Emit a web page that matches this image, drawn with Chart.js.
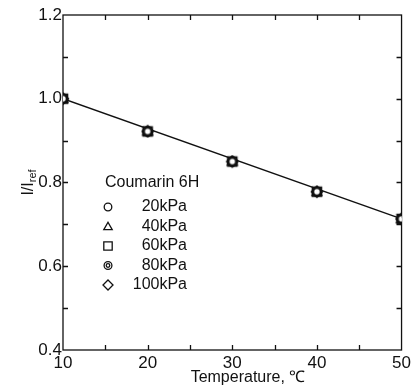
<!DOCTYPE html>
<html>
<head>
<meta charset="utf-8">
<script src="https://cdn.jsdelivr.net/npm/chart.js@4/dist/chart.umd.min.js"></script>
<style>
html,body{margin:0;padding:0;background:#fff;}
#wrap{width:414px;height:386px;position:relative;}
</style>
</head>
<body>
<div id="wrap"><canvas id="c" width="414" height="386"></canvas></div>
<script>
// ---- data ----
const temperature = [10, 20, 30, 40, 50];
const p20kPa  = [1.000, 0.922, 0.850, 0.778, 0.713];
const p40kPa  = [1.000, 0.922, 0.850, 0.778, 0.713];
const p60kPa  = [1.000, 0.922, 0.850, 0.778, 0.713];
const p80kPa  = [1.000, 0.922, 0.850, 0.778, 0.713];
const p100kPa = [1.000, 0.922, 0.850, 0.778, 0.713];
const fitTemperature = [10, 50];
const fitRatio = [1.000, 0.713];
const seriesLabels = ['20kPa', '40kPa', '60kPa', '80kPa', '100kPa'];
const legendTitle = 'Coumarin 6H';
const xTicks = [10, 20, 30, 40, 50];
const yTicks = [0.4, 0.6, 0.8, 1.0, 1.2];
const xTitle = 'Temperature, \u2103';

const INK = '#111';

function drawMarker(ctx, type, x, y, lw) {
  ctx.save();
  ctx.strokeStyle = INK;
  ctx.fillStyle = '#fff';
  ctx.lineWidth = lw;
  ctx.beginPath();
  if (type === 'circle') {
    ctx.arc(x, y, 3.8, 0, Math.PI * 2);
  } else if (type === 'triangle') {
    ctx.moveTo(x, y - 4.2);
    ctx.lineTo(x + 4.2, y + 3.2);
    ctx.lineTo(x - 4.2, y + 3.2);
    ctx.closePath();
  } else if (type === 'square') {
    ctx.rect(x - 4.2, y - 4.2, 8.4, 8.4);
  } else if (type === 'dcircle') {
    ctx.arc(x, y, 3.9, 0, Math.PI * 2);
    ctx.fill(); ctx.stroke();
    ctx.beginPath();
    ctx.arc(x, y, 1.8, 0, Math.PI * 2);
  } else if (type === 'diamond') {
    ctx.moveTo(x, y - 5);
    ctx.lineTo(x + 5, y);
    ctx.lineTo(x, y + 5);
    ctx.lineTo(x - 5, y);
    ctx.closePath();
  }
  ctx.fill();
  ctx.stroke();
  ctx.restore();
}

const markerTypes = ['circle', 'triangle', 'square', 'dcircle', 'diamond'];
function markerImage(type) {
  const cv = document.createElement('canvas');
  cv.width = 14; cv.height = 14;
  drawMarker(cv.getContext('2d'), type, 7, 7, 2.2);
  return cv;
}

const seriesValues = [p20kPa, p40kPa, p60kPa, p80kPa, p100kPa];
const datasets = seriesValues.map((vals, i) => ({
  label: seriesLabels[i],
  data: temperature.map((t, j) => ({x: t, y: vals[j]})),
  pointStyle: markerImage(markerTypes[i]),
  pointRadius: 7,
  showLine: false,
  order: i
}));
datasets.push({
  label: 'fit',
  data: fitTemperature.map((t, j) => ({x: t, y: fitRatio[j]})),
  showLine: true,
  borderColor: INK,
  borderWidth: 1.4,
  pointRadius: 0,
  order: 10
});

const framePlugin = {
  id: 'frame',
  beforeDatasetsDraw(chart) {
    const {ctx, chartArea: a, scales: {x, y}} = chart;
    ctx.save();
    ctx.strokeStyle = INK;
    ctx.lineWidth = 1.3;
    ctx.strokeRect(a.left, a.top, a.right - a.left, a.bottom - a.top);
    ctx.beginPath();
    const L = 5;
    for (let v = x.min + 5; v < x.max - 0.01; v += 5) {
      const px = Math.round(x.getPixelForValue(v)) + 0.5;
      ctx.moveTo(px, a.bottom); ctx.lineTo(px, a.bottom - L);
      ctx.moveTo(px, a.top); ctx.lineTo(px, a.top + L);
    }
    for (let k = 1; k < 8; k++) {
      const v = y.min + k * 0.1;
      const py = Math.round(y.getPixelForValue(v)) + 0.5;
      ctx.moveTo(a.left, py); ctx.lineTo(a.left + L, py);
      ctx.moveTo(a.right, py); ctx.lineTo(a.right - L, py);
    }
    ctx.stroke();
    ctx.restore();
  },
  afterDraw(chart) {
    const {ctx, chartArea: a} = chart;
    ctx.save();
    ctx.fillStyle = INK;
    // x title
    ctx.font = '16px "Liberation Sans", Arial, sans-serif';
    ctx.textAlign = 'center';
    ctx.textBaseline = 'alphabetic';
    ctx.fillText(xTitle, a.left + 185, a.bottom + 32);
    // y title with subscript
    ctx.save();
    ctx.translate(a.left - 30, (a.top + a.bottom) / 2);
    ctx.rotate(-Math.PI / 2);
    ctx.textAlign = 'left';
    ctx.font = '16px "Liberation Sans", Arial, sans-serif';
    const w1 = ctx.measureText('I/I').width;
    ctx.font = '11px "Liberation Sans", Arial, sans-serif';
    const w2 = ctx.measureText('ref').width;
    const x0 = -(w1 + w2) / 2;
    ctx.font = '16px "Liberation Sans", Arial, sans-serif';
    ctx.fillText('I/I', x0, 0);
    ctx.font = '11px "Liberation Sans", Arial, sans-serif';
    ctx.fillText('ref', x0 + w1, 3);
    ctx.restore();
    // legend
    ctx.font = '16px "Liberation Sans", Arial, sans-serif';
    ctx.textBaseline = 'middle';
    ctx.textAlign = 'left';
    const lx = a.left + 42, ly = a.top + 168;
    ctx.fillText(legendTitle, lx, ly);
    ctx.textAlign = 'right';
    for (let i = 0; i < seriesLabels.length; i++) {
      const ry = ly + 24 + i * 19.5;
      drawMarker(ctx, markerTypes[i], lx + 3, ry, 1.3);
      ctx.fillText(seriesLabels[i], lx + 82, ry);
    }
    ctx.restore();
  }
};

new Chart(document.getElementById('c'), {
  type: 'scatter',
  data: {datasets},
  options: {
    responsive: false,
    devicePixelRatio: 1,
    animation: false,
    layout: {padding: {top: 15, right: 12, left: 0, bottom: 0}},
    plugins: {legend: {display: false}, tooltip: {enabled: false}},
    scales: {
      x: {
        type: 'linear', min: 10, max: 50,
        afterFit(s) { s.height = 36; },
        afterBuildTicks(s) { s.ticks = xTicks.map(v => ({value: v})); },
        grid: {display: false, drawTicks: false},
        border: {display: false},
        ticks: {color: INK, padding: 3, maxRotation: 0, autoSkip: false,
                font: {family: '"Liberation Sans", Arial, sans-serif', size: 17}}
      },
      y: {
        type: 'linear', min: 0.4, max: 1.2,
        afterFit(s) { s.width = 63; },
        afterBuildTicks(s) { s.ticks = yTicks.map(v => ({value: v})); },
        grid: {display: false, drawTicks: false},
        border: {display: false},
        ticks: {color: INK, padding: 1, autoSkip: false,
                callback: v => v.toFixed(1),
                font: {family: '"Liberation Sans", Arial, sans-serif', size: 17}}
      }
    }
  },
  plugins: [framePlugin]
});
</script>
</body>
</html>
